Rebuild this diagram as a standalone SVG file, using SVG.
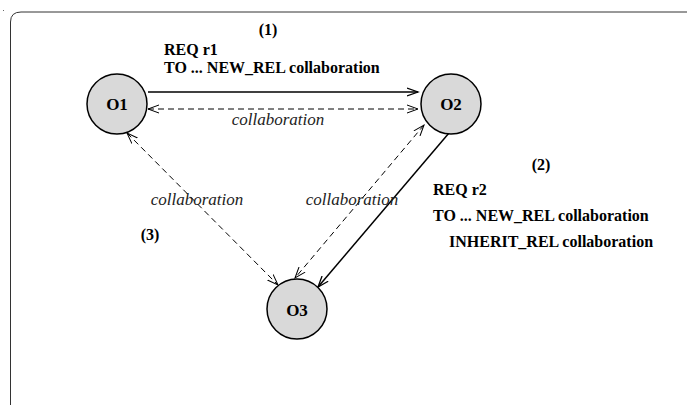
<svg xmlns="http://www.w3.org/2000/svg" width="687" height="405" viewBox="0 0 687 405">
<style>
.node ellipse{fill:#d9d9d9;stroke:#000;stroke-width:1.5}
text{font-family:'Liberation Serif','DejaVu Serif',serif}
.nl{font-weight:bold;font-size:17px;text-anchor:middle;fill:#000}
.b{font-weight:bold;font-size:16px;fill:#000}
.i{font-style:italic;font-size:17px;fill:#222}
.solid{fill:none;stroke:#000;stroke-width:1.5}
.dash{fill:none;stroke:#000;stroke-width:1;stroke-dasharray:6 4}
</style>
<defs>
<marker id="ah" markerUnits="userSpaceOnUse" markerWidth="14" markerHeight="12" refX="11" refY="5" orient="auto-start-reverse" viewBox="0 0 14 10">
<path d="M0,1 L11,5 L0,9" fill="none" stroke="#000" stroke-width="1.3"/>
</marker>
<marker id="ahd" markerUnits="userSpaceOnUse" markerWidth="14" markerHeight="12" refX="11" refY="5" orient="auto-start-reverse" viewBox="0 0 14 10">
<path d="M0,1 L11,5 L0,9" fill="none" stroke="#000" stroke-width="1"/>
</marker>
</defs>
<rect x="0" y="0" width="687" height="405" fill="#fff"/>
<rect x="3" y="10" width="1" height="1" fill="#666"/>
<path d="M10.5,420 L10.5,22 Q10.5,12 21,12 L700,12" fill="none" stroke="#333" stroke-width="1"/>
<g id="connectors">
<line class="solid" x1="148" y1="92" x2="418" y2="92" marker-end="url(#ah)"/>
<line class="dash" x1="148" y1="109" x2="418" y2="109" marker-start="url(#ahd)" marker-end="url(#ahd)"/>
<line class="dash" x1="127" y1="133" x2="278" y2="285" marker-start="url(#ahd)" marker-end="url(#ahd)"/>
<line class="dash" x1="424" y1="125" x2="295" y2="278" marker-start="url(#ahd)" marker-end="url(#ahd)"/>
<line class="solid" x1="449" y1="133" x2="318" y2="287" marker-end="url(#ah)"/>
</g>
<g id="labels">
<text class="b" x="268" y="35" text-anchor="middle">(1)</text>
<text class="b" x="164" y="55">REQ r1</text>
<text class="b" x="164" y="73">TO ... NEW_REL collaboration</text>
<text class="i" x="278" y="125" text-anchor="middle">collaboration</text>
<text class="i" x="197" y="205" text-anchor="middle">collaboration</text>
<text class="i" x="352" y="205" text-anchor="middle">collaboration</text>
<text class="b" x="150" y="240" text-anchor="middle">(3)</text>
<text class="b" x="541" y="170" text-anchor="middle">(2)</text>
<text class="b" x="433" y="195">REQ r2</text>
<text class="b" x="433" y="221">TO ... NEW_REL collaboration</text>
<text class="b" x="449" y="247">INHERIT_REL collaboration</text>
</g>
<g id="O1" class="node"><ellipse cx="117" cy="104" rx="30" ry="30"/><text class="nl" x="117" y="110">O1</text></g>
<g id="O2" class="node"><ellipse cx="451" cy="104" rx="30" ry="30"/><text class="nl" x="451" y="110">O2</text></g>
<g id="O3" class="node"><ellipse cx="297" cy="309" rx="30" ry="30"/><text class="nl" x="297" y="316">O3</text></g>
</svg>
